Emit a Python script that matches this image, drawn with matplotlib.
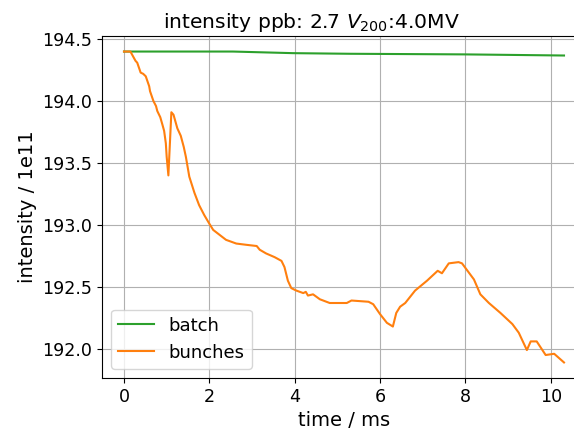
import matplotlib
matplotlib.use("Agg")
import matplotlib.pyplot as plt

# batch intensity (1e11)
batch_t = [0.0, 2.55, 3.96, 5.3, 8.0, 10.31]
batch_v = [194.40, 194.40, 194.387, 194.382, 194.377, 194.368]

# bunches intensity (1e11)
bunch_t = [0.0, 0.15, 0.27, 0.31, 0.39, 0.45, 0.51, 0.53, 0.59, 0.61, 0.69, 0.75,
           0.78, 0.85, 0.90, 0.94, 0.98, 1.0, 1.04, 1.11, 1.16, 1.25, 1.33, 1.40,
           1.45, 1.53, 1.65, 1.76, 1.88, 2.0, 2.09, 2.24, 2.39, 2.63, 2.86, 3.11,
           3.18, 3.33, 3.53, 3.69, 3.76, 3.84, 3.92, 4.04, 4.2, 4.26, 4.31, 4.43,
           4.59, 4.82, 5.22, 5.33, 5.73, 5.84, 6.0, 6.16, 6.30, 6.38, 6.47, 6.59,
           6.82, 7.10, 7.35, 7.45, 7.61, 7.84, 7.92, 8.2, 8.35, 8.55, 8.82, 9.10,
           9.25, 9.44, 9.53, 9.67, 9.88, 10.08, 10.31]
bunch_v = [194.40, 194.40, 194.325, 194.31, 194.23, 194.22, 194.20, 194.18, 194.12,
           194.08, 194.0, 193.96, 193.92, 193.87, 193.81, 193.76, 193.66, 193.55,
           193.40, 193.91, 193.89, 193.78, 193.72, 193.63, 193.55, 193.39, 193.26,
           193.16, 193.08, 193.01, 192.96, 192.92, 192.88, 192.85, 192.84, 192.83,
           192.80, 192.77, 192.74, 192.71, 192.66, 192.55, 192.49, 192.47, 192.45,
           192.46, 192.43, 192.44, 192.40, 192.37, 192.37, 192.39, 192.38, 192.36,
           192.28, 192.21, 192.18, 192.29, 192.34, 192.37, 192.47, 192.55, 192.63,
           192.61, 192.69, 192.70, 192.69, 192.56, 192.44, 192.37, 192.29, 192.20,
           192.13, 191.99, 192.06, 192.06, 191.95, 191.96, 191.89]

title = "intensity ppb: 2.7 $V_{200}$:4.0MV"

fig = plt.figure(figsize=(5.74, 4.29), dpi=100)
ax = fig.add_axes([102 / 574, 51 / 429, 484 / 574, 342 / 429])
ax.plot(batch_t, batch_v, color="tab:green", lw=1.5, label="batch")
ax.plot(bunch_t, bunch_v, color="tab:orange", lw=1.5, label="bunches")
ax.ticklabel_format(useOffset=False, axis="y")
ax.grid(True)
ax.tick_params(labelsize=12.6)
ax.set_xlabel("time / ms", fontsize=14)
ax.set_ylabel("intensity / 1e11", fontsize=14)
ax.set_title(title, fontsize=14.6, x=0.433)
ax.legend(loc="lower left", fontsize=13)
fig.savefig("out.png", dpi=100)
